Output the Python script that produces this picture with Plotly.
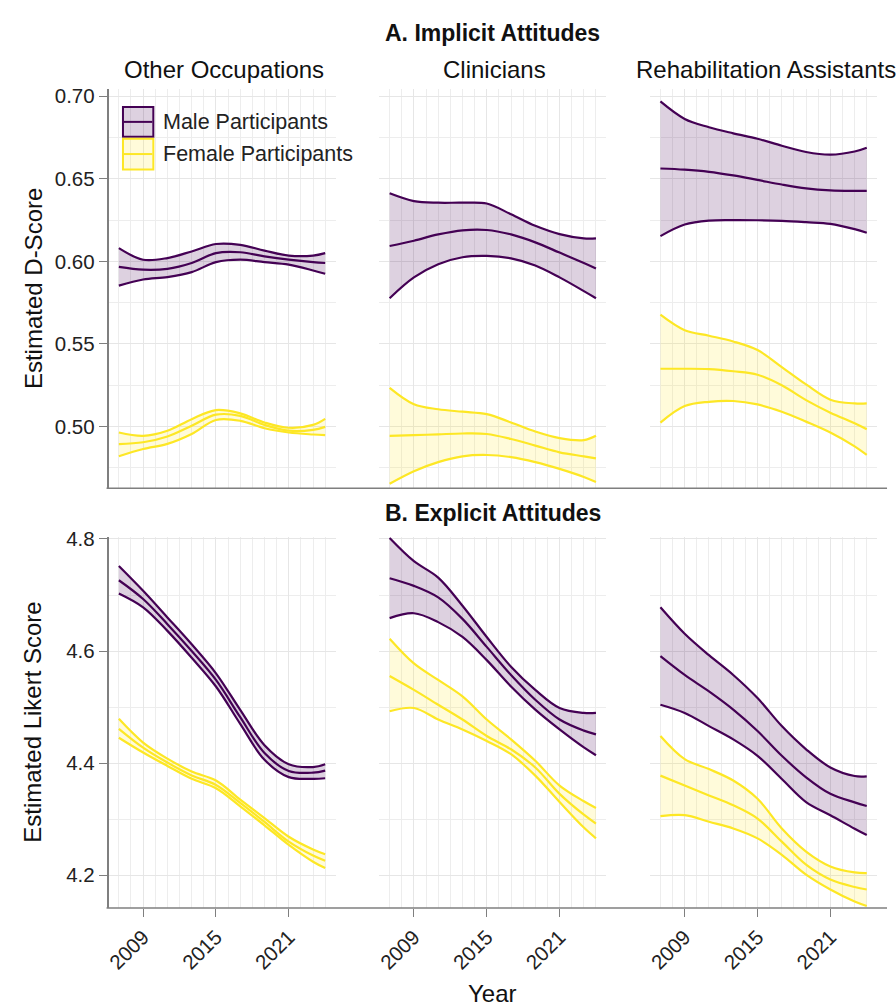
import plotly.graph_objects as go

W, H = 896, 1008

# ---------------- data ----------------
years = [2007, 2009, 2011, 2013, 2015, 2017, 2019, 2021, 2023, 2024]
occupations = ["Other Occupations", "Clinicians", "Rehabilitation Assistants"]
sexes = ["Male Participants", "Female Participants"]

# A. Implicit attitudes (estimated D-score): lower CI, estimate, upper CI
imp_other_male_lo = [0.5853, 0.5890, 0.5905, 0.5935, 0.5995, 0.6010, 0.5995, 0.5980, 0.5945, 0.5925]
imp_other_male_est = [0.5967, 0.5950, 0.5955, 0.5990, 0.6050, 0.6055, 0.6030, 0.6010, 0.5995, 0.5990]
imp_other_male_hi = [0.6080, 0.6010, 0.6020, 0.6060, 0.6105, 0.6100, 0.6065, 0.6035, 0.6035, 0.6050]
imp_other_female_lo = [0.4820, 0.4864, 0.4895, 0.4955, 0.5040, 0.5035, 0.4990, 0.4964, 0.4952, 0.4948]
imp_other_female_est = [0.4894, 0.4905, 0.4940, 0.5005, 0.5072, 0.5065, 0.5010, 0.4975, 0.4980, 0.4998]
imp_other_female_hi = [0.4964, 0.4944, 0.4975, 0.5045, 0.5100, 0.5080, 0.5025, 0.4993, 0.5010, 0.5047]

imp_clin_male_lo = [0.5777, 0.5903, 0.5983, 0.6025, 0.6033, 0.6018, 0.5975, 0.5903, 0.5820, 0.5777]
imp_clin_male_est = [0.6093, 0.6125, 0.6163, 0.6188, 0.6190, 0.6163, 0.6115, 0.6053, 0.5990, 0.5957]
imp_clin_male_hi = [0.6412, 0.6365, 0.6355, 0.6355, 0.6350, 0.6285, 0.6215, 0.6165, 0.6139, 0.6139]
imp_clin_female_lo = [0.4654, 0.4730, 0.4785, 0.4820, 0.4828, 0.4815, 0.4785, 0.4744, 0.4695, 0.4664]
imp_clin_female_est = [0.4944, 0.4948, 0.4953, 0.4958, 0.4955, 0.4925, 0.4885, 0.4844, 0.4820, 0.4808]
imp_clin_female_hi = [0.5234, 0.5135, 0.5105, 0.5090, 0.5075, 0.5025, 0.4970, 0.4930, 0.4918, 0.4944]

imp_rehab_male_lo = [0.6153, 0.6223, 0.6247, 0.6250, 0.6249, 0.6245, 0.6237, 0.6227, 0.6195, 0.6173]
imp_rehab_male_est = [0.6562, 0.6555, 0.6542, 0.6520, 0.6493, 0.6465, 0.6442, 0.6430, 0.6427, 0.6427]
imp_rehab_male_hi = [0.6968, 0.6862, 0.6812, 0.6775, 0.6742, 0.6700, 0.6662, 0.6646, 0.6665, 0.6688]
imp_rehab_female_lo = [0.5024, 0.5124, 0.5150, 0.5155, 0.5134, 0.5090, 0.5030, 0.4964, 0.4880, 0.4828]
imp_rehab_female_est = [0.5350, 0.5350, 0.5348, 0.5335, 0.5314, 0.5250, 0.5160, 0.5084, 0.5020, 0.4984]
imp_rehab_female_hi = [0.5677, 0.5583, 0.5550, 0.5515, 0.5463, 0.5360, 0.5255, 0.5163, 0.5140, 0.5140]

# B. Explicit attitudes (estimated Likert score)
exp_other_male_lo = [4.7028, 4.6781, 4.636, 4.588, 4.5367, 4.470, 4.406, 4.375, 4.372, 4.373]
exp_other_male_est = [4.7263, 4.6928, 4.648, 4.600, 4.5484, 4.482, 4.418, 4.386, 4.383, 4.3866]
exp_other_male_hi = [4.7516, 4.7074, 4.660, 4.612, 4.5603, 4.495, 4.432, 4.398, 4.393, 4.398]
exp_other_female_lo = [4.4454, 4.419, 4.395, 4.372, 4.3553, 4.323, 4.289, 4.254, 4.224, 4.2127]
exp_other_female_est = [4.4613, 4.4277, 4.401, 4.378, 4.3611, 4.329, 4.295, 4.2599, 4.235, 4.2258]
exp_other_female_hi = [4.479, 4.4366, 4.408, 4.385, 4.369, 4.335, 4.302, 4.2687, 4.246, 4.2375]

exp_clin_male_lo = [4.6587, 4.6675, 4.6516, 4.6251, 4.5838, 4.5367, 4.4954, 4.4601, 4.428, 4.4141]
exp_clin_male_est = [4.7299, 4.7163, 4.6958, 4.6574, 4.6074, 4.5573, 4.5131, 4.4778, 4.458, 4.4513]
exp_clin_male_hi = [4.8018, 4.7604, 4.7311, 4.6809, 4.6251, 4.5721, 4.5307, 4.4984, 4.4896, 4.4896]
exp_clin_female_lo = [4.4926, 4.4984, 4.4778, 4.4601, 4.4396, 4.4159, 4.3777, 4.3306, 4.285, 4.2657]
exp_clin_female_est = [4.5555, 4.5307, 4.5042, 4.4778, 4.4484, 4.4247, 4.3923, 4.3452, 4.308, 4.2922]
exp_clin_female_hi = [4.6221, 4.578, 4.5484, 4.5191, 4.4778, 4.4424, 4.4042, 4.36, 4.332, 4.32]

exp_rehab_male_lo = [4.5042, 4.4896, 4.4661, 4.4424, 4.4131, 4.3718, 4.3306, 4.3071, 4.283, 4.2717]
exp_rehab_male_est = [4.5908, 4.5573, 4.5279, 4.4954, 4.4572, 4.4131, 4.3747, 4.3452, 4.330, 4.3235]
exp_rehab_male_hi = [4.6781, 4.6309, 4.5926, 4.5573, 4.5161, 4.4661, 4.4247, 4.3923, 4.377, 4.3765]
exp_rehab_female_lo = [4.3053, 4.3071, 4.2953, 4.2834, 4.2657, 4.2364, 4.201, 4.1745, 4.153, 4.145]
exp_rehab_female_est = [4.3777, 4.36, 4.3424, 4.3247, 4.3011, 4.2599, 4.2187, 4.1922, 4.179, 4.1745]
exp_rehab_female_hi = [4.4484, 4.4071, 4.3894, 4.3689, 4.3364, 4.2834, 4.2422, 4.2157, 4.205, 4.2039]

x_tickvals = [2009, 2015, 2021]
imp_yticks = [0.50, 0.55, 0.60, 0.65, 0.70]
exp_yticks = [4.2, 4.4, 4.6, 4.8]

# ---------------- styling ----------------
FONT = "Liberation Sans, Arial, Helvetica, sans-serif"
COLORS = {"Male Participants": "#440154", "Female Participants": "#FDE725"}
FILLS = {"Male Participants": "rgba(68,1,84,0.18)", "Female Participants": "rgba(253,231,37,0.17)"}
GRID = "#E6E6E6"
MINOR_GRID = "#EDEDED"
AXIS_COL = "#7F7F7F"
TEXT_COL = "#222222"

def px_x(p):
    return p / W

def px_y(p):
    return 1 - p / H

panel_x_px = [(105, 333), (377, 605), (649, 877)]
row_y_px = [(80, 483), (532, 907)]
x_range = [2006.15, 2024.85]
y_ranges = [[0.4627, 0.7042], [4.1415, 4.804]]

panels = [
    (0, 0, {"Male Participants": (imp_other_male_lo, imp_other_male_est, imp_other_male_hi),
            "Female Participants": (imp_other_female_lo, imp_other_female_est, imp_other_female_hi)}),
    (0, 1, {"Male Participants": (imp_clin_male_lo, imp_clin_male_est, imp_clin_male_hi),
            "Female Participants": (imp_clin_female_lo, imp_clin_female_est, imp_clin_female_hi)}),
    (0, 2, {"Male Participants": (imp_rehab_male_lo, imp_rehab_male_est, imp_rehab_male_hi),
            "Female Participants": (imp_rehab_female_lo, imp_rehab_female_est, imp_rehab_female_hi)}),
    (1, 0, {"Male Participants": (exp_other_male_lo, exp_other_male_est, exp_other_male_hi),
            "Female Participants": (exp_other_female_lo, exp_other_female_est, exp_other_female_hi)}),
    (1, 1, {"Male Participants": (exp_clin_male_lo, exp_clin_male_est, exp_clin_male_hi),
            "Female Participants": (exp_clin_female_lo, exp_clin_female_est, exp_clin_female_hi)}),
    (1, 2, {"Male Participants": (exp_rehab_male_lo, exp_rehab_male_est, exp_rehab_male_hi),
            "Female Participants": (exp_rehab_female_lo, exp_rehab_female_est, exp_rehab_female_hi)}),
]

fig = go.Figure()
layout = {}

for idx, (row, col, series) in enumerate(panels):
    n = idx + 1
    xa = "x" if n == 1 else f"x{n}"
    ya = "y" if n == 1 else f"y{n}"
    for sex in ["Female Participants", "Male Participants"]:
        lo, est, hi = series[sex]
        c = COLORS[sex]
        fig.add_trace(go.Scatter(x=years, y=lo, mode="lines", line=dict(color=c, width=2.2, shape="spline"),
                                 xaxis=xa, yaxis=ya, showlegend=False, hoverinfo="skip"))
        fig.add_trace(go.Scatter(x=years, y=hi, mode="lines", line=dict(color=c, width=2.2, shape="spline"),
                                 fill="tonexty", fillcolor=FILLS[sex],
                                 xaxis=xa, yaxis=ya, showlegend=False, hoverinfo="skip"))
        fig.add_trace(go.Scatter(x=years, y=est, mode="lines", line=dict(color=c, width=2.2, shape="spline"),
                                 xaxis=xa, yaxis=ya, showlegend=False, name=sex))

    x0, x1 = panel_x_px[col]
    yt, yb = row_y_px[row]
    bottom = row == 1
    left = col == 0
    xkey = "xaxis" if n == 1 else f"xaxis{n}"
    ykey = "yaxis" if n == 1 else f"yaxis{n}"
    layout[xkey] = dict(
        domain=[px_x(x0), px_x(x1)], anchor=ya, range=x_range,
        tickmode="array", tickvals=x_tickvals, ticktext=[str(v) for v in x_tickvals],
        showticklabels=bottom, ticks="outside" if bottom else "", ticklen=8, tickcolor=AXIS_COL,
        tickwidth=1.2, tickangle=-45,
        tickfont=dict(family=FONT, size=20.5, color=TEXT_COL),
        showgrid=True, gridcolor=GRID, gridwidth=1.4,
        minor=dict(tick0=2007, dtick=1, showgrid=True, gridcolor=MINOR_GRID, gridwidth=1.3, ticks=""),
        showline=False, zeroline=False,
    )
    yticks = imp_yticks if row == 0 else exp_yticks
    layout[ykey] = dict(
        domain=[px_y(yb), px_y(yt)], anchor=xa, range=y_ranges[row],
        tickmode="array", tickvals=yticks,
        ticktext=[f"{v:.2f}" for v in yticks] if row == 0 else [f"{v:.1f}" for v in yticks],
        showticklabels=left, ticks="outside" if left else "", ticklen=8, tickcolor=AXIS_COL, tickwidth=1.2,
        tickfont=dict(family=FONT, size=20.5, color=TEXT_COL),
        showgrid=True, gridcolor=GRID, gridwidth=1.4,
        minor=dict(dtick=0.025 if row == 0 else 0.1, tick0=0 if row == 0 else 4.1,
                   showgrid=True, gridcolor=MINOR_GRID, gridwidth=1.3, ticks=""),
        showline=left, linecolor=AXIS_COL, linewidth=1.5, zeroline=False,
    )

shapes = []
# bottom axis lines spanning each row
for yt, yb in row_y_px:
    shapes.append(dict(type="line", xref="paper", yref="paper", x0=px_x(103), x1=px_x(887),
                       y0=px_y(yb), y1=px_y(yb), line=dict(color=AXIS_COL, width=1.5)))

# manual legend keys
legend_items = [("Male Participants", 98, 128), ("Female Participants", 130, 161)]
annotations = []
for sex, t, b in legend_items:
    shapes.append(dict(type="rect", xref="paper", yref="paper", x0=px_x(119.5), x1=px_x(150),
                       y0=px_y(b), y1=px_y(t), fillcolor=FILLS[sex],
                       line=dict(color=COLORS[sex], width=2)))
    ym = (t + b) / 2
    shapes.append(dict(type="line", xref="paper", yref="paper", x0=px_x(120.5), x1=px_x(149),
                       y0=px_y(ym), y1=px_y(ym), line=dict(color=COLORS[sex], width=2)))
    annotations.append(dict(text=sex, xref="paper", yref="paper", x=px_x(158), y=px_y(ym),
                            xanchor="left", yanchor="middle", showarrow=False,
                            font=dict(family=FONT, size=21.5, color=TEXT_COL)))

def ann(text, xp, yp, size, bold=False, angle=0):
    annotations.append(dict(text=f"<b>{text}</b>" if bold else text, xref="paper", yref="paper",
                            x=px_x(xp), y=px_y(yp), xanchor="center", yanchor="middle",
                            showarrow=False, textangle=angle,
                            font=dict(family=FONT, size=size, color="#111111")))

ann("A. Implicit Attitudes", 491, 23, 23, bold=True)
ann("B. Explicit Attitudes", 491, 508, 23, bold=True)
for (x0, x1), name in zip(panel_x_px, occupations):
    ann(name, (x0 + x1) / 2 + 2, 60, 24)
ann("Estimated D-Score", 29, 281, 24, angle=-90)
ann("Estimated Likert Score", 29, 719, 24, angle=-90)
ann("Year", 491, 993, 24)

fig.update_layout(
    width=W, height=H, autosize=False,
    margin=dict(l=0, r=0, t=0, b=0),
    paper_bgcolor="white", plot_bgcolor="white",
    showlegend=False,
    shapes=shapes, annotations=annotations,
    font=dict(family=FONT),
    **layout,
)

fig.write_html("out.html", config={"displayModeBar": False},
               post_script="document.body.style.margin='0px';")
